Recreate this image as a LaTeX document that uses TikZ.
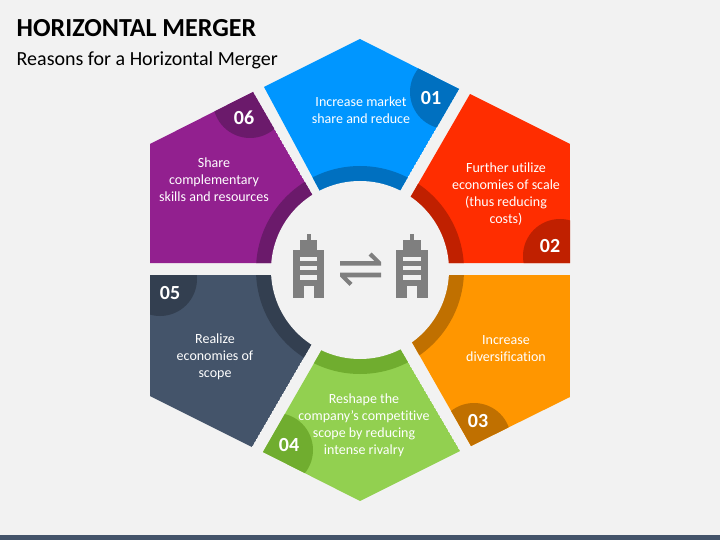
\documentclass[tikz,border=0pt]{standalone}
\usepackage{xcolor}
\usepackage{fontspec}
\setmainfont[Ligatures=NoCommon]{Carlito}
\usepackage{tikz}
\definecolor{pagegrey}{HTML}{F2F2F2}
\definecolor{icongrey}{HTML}{7F7F7F}
\definecolor{slate}{HTML}{44546A}
\definecolor{darkslate}{HTML}{333F50}
\definecolor{skyblue}{HTML}{0096FF}
\definecolor{darkblue}{HTML}{0070C0}
\definecolor{hotred}{HTML}{FF2D00}
\definecolor{darkred}{HTML}{C02000}
\definecolor{amber}{HTML}{FF9600}
\definecolor{darkamber}{HTML}{C07000}
\definecolor{leaf}{HTML}{92D050}
\definecolor{darkleaf}{HTML}{70AD2F}
\definecolor{plum}{HTML}{92208F}
\definecolor{darkplum}{HTML}{6B1A6B}
\newcommand{\hexPart}[4]{%
  \begin{scope}
    \clip #3 -- cycle;
    \fill[#1] #3 -- cycle;
    \fill[#2] (360, 270) circle (104);
    \fill[#2] #4 circle (37);
  \end{scope}}
\newcommand{\towerIcon}[1]{%
  \begin{scope}[xshift=#1]
    \fill[icongrey] (293, 250) rectangle (324.3, 297.7);
    \fill[icongrey] (300, 240) rectangle (317.3, 250);
    \fill[icongrey] (306.7, 234) rectangle (310.7, 240);
    \fill[pagegrey] (300, 256.7) rectangle (317.3, 261);
    \fill[pagegrey] (300, 265.7) rectangle (317.3, 270.3);
    \fill[pagegrey] (300, 275) rectangle (317.3, 279.7);
    \fill[pagegrey] (304, 286) rectangle (314, 297.7);
  \end{scope}}
\tikzset{
  segtext/.style={font=\fontsize{14}{17}\selectfont, text=white, align=center, inner sep=0pt},
  segnum/.style={font=\fontsize{20}{20}\selectfont\bfseries, text=white, inner sep=0pt}
}

\begin{document}
\begin{tikzpicture}[x=1pt, y=-1pt]
      % Page
      \fill[pagegrey] (0, 0) rectangle (720, 540);
      \fill[slate] (0, 535) rectangle (720, 540);

      % Heading
      \node[font=\fontsize{26}{26}\selectfont\bfseries, anchor=base west, inner sep=0pt]
        (title) at (16.5, 37) {HORIZONTAL MERGER};
      \node[font=\fontsize{20}{20}\selectfont, anchor=base west, inner sep=0pt]
        (subtitle) at (16.5, 66) {Reasons for a Horizontal Merger};

      % Hexagon parts
      \hexPart{skyblue}{darkblue}{(264, 87) -- (360, 39) -- (459, 89) -- (375, 234) -- (343, 234)}{(447, 92)}
      \hexPart{hotred}{darkred}{(470, 94) -- (570, 144) -- (570, 263) -- (388, 263) -- (388, 236)}{(560, 256)}
      \hexPart{amber}{darkamber}{(388, 275) -- (570, 275) -- (570, 397) -- (471, 446) -- (388, 300)}{(474, 440)}
      \hexPart{leaf}{darkleaf}{(360, 501) -- (263, 452) -- (344, 311) -- (378, 311) -- (460, 451)}{(276, 450)}
      \hexPart{slate}{darkslate}{(150, 275) -- (332, 275) -- (332, 309) -- (252, 447) -- (150, 396)}{(160, 279)}
      \hexPart{plum}{darkplum}{(150, 144) -- (253, 92) -- (332, 229) -- (332, 263) -- (150, 263)}{(250, 101)}

      % Middle circle
      \fill[pagegrey] (360, 270) circle (89);

      % Labels
      \node[segtext] (textA) at (361, 110.5) {Increase market\\share and reduce};
      \node[segtext] (textB) at (506, 194.5) {Further utilize\\economies of scale\\(thus reducing\\costs)};
      \node[segtext] (textC) at (506, 348.5) {Increase\\diversification};
      \node[segtext] (textD) at (364, 425.5) {Reshape the\\company’s competitive\\scope by reducing\\intense rivalry};
      \node[segtext] (textE) at (215, 357) {Realize\\economies of\\scope};
      \node[segtext] (textF) at (214, 180) {Share\\complementary\\skills and resources};

      % Numbers
      \node[segnum] (numA) at (431, 98) {01};
      \node[segnum] (numB) at (550, 246) {02};
      \node[segnum] (numC) at (478, 421) {03};
      \node[segnum] (numD) at (289, 445) {04};
      \node[segnum] (numE) at (170, 293) {05};
      \node[segnum] (numF) at (244, 118) {06};

      % Buildings
      \towerIcon{0pt}
      \towerIcon{103.3pt}

      % Swap arrows
      \fill[icongrey] (340, 261) -- (374.5, 261) -- (368.5, 255.5) -- (371.5, 252.5)
        -- (381, 262) -- (381, 265.7) -- (340, 265.7) -- cycle;
      \fill[icongrey] (381, 277.3) -- (346.5, 277.3) -- (352.5, 282.8) -- (349.5, 285.8)
        -- (340, 276.3) -- (340, 272.7) -- (381, 272.7) -- cycle;
    \end{tikzpicture}
\end{document}
